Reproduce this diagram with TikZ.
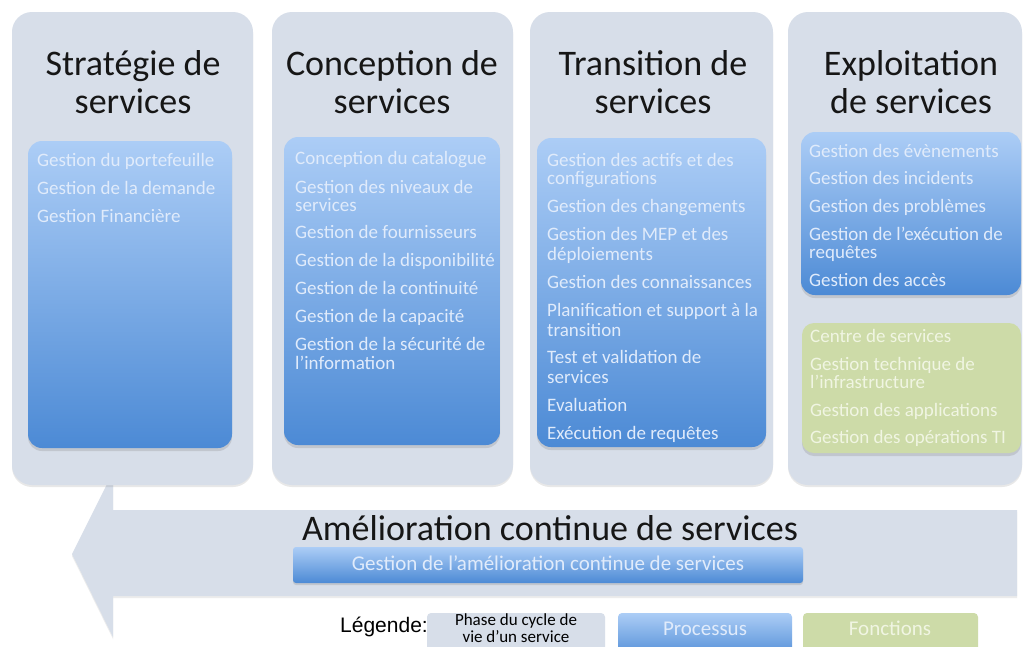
\documentclass[tikz,border=0pt]{standalone}
\usepackage{fontspec}
\setmainfont{Carlito}
\newfontfamily\arialf{Liberation Sans}
\usetikzlibrary{shadows}
\definecolor{phase}{RGB}{215,222,233}
\definecolor{btop}{RGB}{172,205,246}
\definecolor{bbot}{RGB}{76,138,213}
\definecolor{fgreen}{RGB}{205,219,168}
\definecolor{btext}{RGB}{224,235,251}
\definecolor{gtext}{RGB}{240,245,226}
\definecolor{htext}{RGB}{22,22,22}
\begin{document}
\begin{tikzpicture}[x=1pt,y=-1pt,
  phasebox/.style={fill=phase, rounded corners=20pt, drop shadow={shadow xshift=0pt,shadow yshift=-2pt,opacity=0.18}},
  procbox/.style={top color=btop, bottom color=bbot, rounded corners=14pt, drop shadow={shadow xshift=0pt,shadow yshift=-3pt,opacity=0.25}},
  fctbox/.style={fill=fgreen, rounded corners=12pt, drop shadow={shadow xshift=0pt,shadow yshift=-3pt,opacity=0.25}},
  head/.style={font=\fontsize{36}{40}\selectfont, text=htext, anchor=base, inner sep=0pt},
  item/.style={font=\fontsize{19}{20}\selectfont, text=btext, anchor=base west, inner sep=0pt},
  gitem/.style={item, text=gtext},
]
\useasboundingbox (0,0) rectangle (1024,646);
\fill[white] (0,0) rectangle (1024,646);
\clip (0,0) rectangle (1024,646);

% big arrow
\fill[phase, drop shadow={shadow xshift=0pt,shadow yshift=-2pt,opacity=0.15}]
  (1017,510) -- (113,510) -- (113,472) -- (72,554) -- (113,637) -- (113,596) -- (1017,596) -- cycle;

% columns
\path[phasebox] (12,12) rectangle (253,485);
\path[phasebox] (272,12) rectangle (513,485);
\path[phasebox] (530,12) rectangle (773,485);
\path[phasebox] (788,12) rectangle (1022,485);

% inner boxes
\path[procbox] (28,141) rectangle (232,448);
\path[procbox] (284,137) rectangle (500,445);
\path[procbox] (537,138) rectangle (766,447);
\path[procbox] (801,132) rectangle (1021,295);
\path[fctbox] (802,323) rectangle (1021,453);

% headings
\node[head] (h1a) at (133,75) {Stratégie de};
\node[head] (h1b) at (133,113) {services};
\node[head] (h2a) at (392,75) {Conception de};
\node[head] (h2b) at (392,113) {services};
\node[head] (h3a) at (653,75) {Transition de};
\node[head] (h3b) at (653,113) {services};
\node[head] (h4a) at (911,75) {Exploitation};
\node[head] (h4b) at (911,113) {de services};

% items
\foreach \t/\yy [count=\i] in {Gestion du portefeuille/166, Gestion de la demande/194, Gestion Financière/222}
  \node[item] (a\i) at (37,\yy) {\t};
\foreach \t/\yy [count=\i] in {Conception du catalogue/164, Gestion des niveaux de/193, services/211, Gestion de fournisseurs/238, Gestion de la disponibilité/266, Gestion de la continuité/294, Gestion de la capacité/322, Gestion de la sécurité de/350, l’information/369}
  \node[item] (b\i) at (295,\yy) {\t};
\foreach \t/\yy [count=\i] in {Gestion des actifs et des/166, configurations/184, Gestion des changements/212, Gestion des MEP et des/240, déploiements/260, Gestion des connaissances/288, Planification et support à la/316, transition/336, Test et validation de/363, services/383, Evaluation/411, Exécution de requêtes/439}
  \node[item] (c\i) at (547,\yy) {\t};
\foreach \t/\yy [count=\i] in {Gestion des évènements/157, Gestion des incidents/184, Gestion des problèmes/212, Gestion de l’exécution de/240, requêtes/258, Gestion des accès/286}
  \node[item] (d\i) at (809,\yy) {\t};
\foreach \t/\yy [count=\i] in {Centre de services/342, Gestion technique de/370, l’infrastructure/388, Gestion des applications/416, Gestion des opérations TI/443}
  \node[gitem] (e\i) at (810,\yy) {\t};

% continual improvement
\node[head] (csi) at (550,540) {Amélioration continue de services};
\path[top color=btop, bottom color=bbot, rounded corners=3pt, drop shadow={shadow xshift=0pt,shadow yshift=-2pt,opacity=0.25}] (293,547) rectangle (803,583);
\node[item, anchor=base, font=\fontsize{21}{22}\selectfont] (csip) at (548,570) {Gestion de l’amélioration continue de services};

% legend
\node[anchor=base west, inner sep=0pt, font=\arialf\fontsize{21}{22}\selectfont, text=black] (leg) at (340,632) {Légende:};
\path[fill=phase, rounded corners=4pt] (427,613) rectangle (605,652);
\node[anchor=base, inner sep=0pt, font=\fontsize{17}{18}\selectfont, text=black] (lp1) at (516,625) {Phase du cycle de};
\node[anchor=base, inner sep=0pt, font=\fontsize{17}{18}\selectfont, text=black] (lp2) at (516,642) {vie d’un service};
\path[top color=btop, bottom color=bbot, rounded corners=4pt] (618,613) rectangle (792,660);
\node[item, anchor=base, font=\fontsize{21}{22}\selectfont] (lproc) at (705,635) {Processus};
\path[fill=fgreen, rounded corners=4pt] (803,613) rectangle (978,660);
\node[gitem, anchor=base, font=\fontsize{21}{22}\selectfont] (lfct) at (890,635) {Fonctions};
\end{tikzpicture}
\end{document}
